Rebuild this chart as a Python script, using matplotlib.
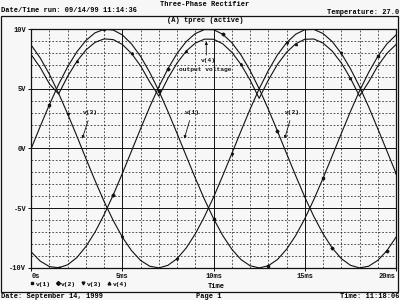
import matplotlib
matplotlib.use("Agg")
import matplotlib.pyplot as plt
from matplotlib.lines import Line2D
from matplotlib.patches import Rectangle

t_ms = [0.0, 0.5, 1.0, 1.5, 2.0, 2.5, 3.0, 3.5, 4.0, 4.5,
        5.0, 5.5, 6.0, 6.5, 7.0, 7.5, 8.0, 8.5, 9.0, 9.5,
        10.0, 10.5, 11.0, 11.5, 12.0, 12.5, 13.0, 13.5, 14.0, 14.5,
        15.0, 15.5, 16.0, 16.5, 17.0, 17.5, 18.0, 18.5, 19.0, 19.5, 20.0]

v1 = [0.0, 1.87, 3.68, 5.36, 6.85, 8.09, 9.05, 9.69, 9.98, 9.92,
      9.51, 8.76, 7.71, 6.37, 4.82, 3.09, 1.25, -0.63, -2.49, -4.26,
      -5.88, -7.29, -8.44, -9.30, -9.82, -10.0, -9.82, -9.30, -8.44, -7.29,
      -5.88, -4.26, -2.49, -0.63, 1.25, 3.09, 4.82, 6.37, 7.71, 8.76, 9.51]

v2 = [-8.66, -9.44, -9.89, -9.99, -9.74, -9.14, -8.21, -7.00, -5.53, -3.88,
      -2.08, -0.21, 1.67, 3.49, 5.18, 6.69, 7.97, 8.96, 9.63, 9.96,
      9.95, 9.57, 8.86, 7.84, 6.53, 5.00, 3.29, 1.46, -0.42, -2.28,
      -4.07, -5.71, -7.14, -8.33, -9.22, -9.78, -10.0, -9.86, -9.37, -8.56, -7.43]

v3 = [8.66, 7.57, 6.21, 4.63, 2.89, 1.05, -0.84, -2.69, -4.45, -6.04,
      -7.43, -8.55, -9.38, -9.86, -10.0, -9.78, -9.22, -8.33, -7.14, -5.70,
      -4.07, -2.28, -0.42, 1.46, 3.29, 5.00, 6.53, 7.84, 8.86, 9.57,
      9.95, 9.97, 9.63, 8.96, 7.97, 6.69, 5.18, 3.49, 1.66, -0.20, -2.08]

# output voltage (rectified envelope)
v4 = [7.86, 6.77, 5.41, 4.56, 6.05, 7.29, 8.25, 8.89, 9.18, 9.12,
      8.71, 7.96, 6.91, 5.57, 4.38, 5.89, 7.17, 8.16, 8.83, 9.16,
      9.15, 8.77, 8.06, 7.04, 5.73, 4.20, 5.73, 7.04, 8.06, 8.77,
      9.15, 9.17, 8.83, 8.16, 7.17, 5.89, 4.38, 5.57, 6.91, 7.96, 8.71]

xticks = [0, 5, 10, 15, 20]
xticklabels = ["0s", "5ms", "10ms", "15ms", "20ms"]
yticks = [-10, -5, 0, 5, 10]
yticklabels = ["-10V", "-5V", "0V", "5V", "10V"]

FONT = dict(family="Liberation Mono", weight="bold", size=5)
SMALL = dict(family="Liberation Mono", weight="bold", size=4.5)
ink = "#111111"

fig = plt.figure(figsize=(4, 3), dpi=100)
fig.patch.set_facecolor("#f7f7f7")
ax = fig.add_axes([0.078, 0.107, 0.912, 0.796])
ax.set_facecolor("#f7f7f7")

series = [(v1, "s", "v(1)"), (v2, "D", "v(2)"),
          (v3, "v", "v(3)"), (v4, "^", "v(4)")]
for i, (vals, mk, lab) in enumerate(series):
    ax.plot(t_ms, vals, color=ink, lw=0.8, marker=mk, ms=1.5,
            markevery=(2 + i, 6), label=lab)

ax.set_xlim(0, 20)
ax.set_ylim(-10, 10)

# grid: solid at major, dashed at minor (1 ms / 1 V)
for x in range(1, 20):
    if x % 5 == 0:
        ax.axvline(x, color=ink, lw=0.7)
    else:
        ax.axvline(x, color=ink, lw=0.5, ls=(0, (2.5, 2.5)))
for y in range(-9, 10):
    if y % 5 == 0:
        ax.axhline(y, color=ink, lw=0.7)
    else:
        ax.axhline(y, color=ink, lw=0.5, ls=(0, (2.5, 2.5)))

for sp in ax.spines.values():
    sp.set_color(ink)
    sp.set_linewidth(0.9)

ax.set_xticks(xticks)
ax.set_xticklabels(xticklabels, fontdict=FONT, color=ink)
ax.set_yticks(yticks)
ax.set_yticklabels(yticklabels, fontdict=FONT, color=ink)
ax.tick_params(length=2, width=0.7, pad=1.5, colors=ink)
xl = ax.get_xticklabels()
xl[0].set_ha("left")
xl[-1].set_ha("right")

# trace labels with arrows
arrow = dict(arrowstyle="-|>", color=ink, lw=0.6, mutation_scale=4)
ax.annotate("v(3)", xy=(2.75, 0.6), xytext=(2.85, 3.0), ha="left", va="center",
            arrowprops=arrow, color=ink, **SMALL)
ax.annotate("v(1)", xy=(8.35, 0.6), xytext=(8.4, 3.0), ha="left", va="center",
            arrowprops=arrow, color=ink, **SMALL)
ax.annotate("v(2)", xy=(13.85, 0.6), xytext=(13.9, 3.0), ha="left", va="center",
            arrowprops=arrow, color=ink, **SMALL)
ax.annotate("", xy=(9.6, 9.2), xytext=(9.6, 7.6), arrowprops=arrow)
ax.text(9.3, 7.4, "v(4)", ha="left", va="center", color=ink, **SMALL)
ax.text(8.1, 6.6, "output voltage", ha="left", va="center", color=ink, **SMALL)

# legend below the plot
handles = [Line2D([], [], color=ink, marker=m, ms=2, ls="none") for _, m, _ in series]
ax.legend(handles, [s[2] for s in series], loc="upper left",
          bbox_to_anchor=(-0.01, -0.045), ncol=4, frameon=False,
          handlelength=0.6, handletextpad=0.3, columnspacing=0.8,
          borderaxespad=0, prop=SMALL)

# page frame and header / footer texts like the probe printout
fig.add_artist(Rectangle((0.003, 1 - 292 / 300), 0.992, (292 - 16) / 300,
                         transform=fig.transFigure, fill=False, ec=ink, lw=0.9))
fig.text(0.512, 1 - 4 / 300, "Three-Phase Rectifier", ha="center", va="center", **FONT)
fig.text(0.003, 1 - 10 / 300, "Date/Time run: 09/14/99 11:14:36", ha="left", va="center", **FONT)
fig.text(0.998, 1 - 12 / 300, "Temperature: 27.0", ha="right", va="center", **FONT)
fig.text(0.512, 1 - 21 / 300, "(A) tprec (active)", ha="center", va="center", **FONT)
fig.text(0.52, 1 - 287 / 300, "Time", ha="left", va="center", **FONT)
fig.text(0.003, 1 - 297 / 300, "Date: September 14, 1999", ha="left", va="center", **FONT)
fig.text(0.49, 1 - 297 / 300, "Page 1", ha="left", va="center", **FONT)
fig.text(0.998, 1 - 297 / 300, "Time: 11:18:06", ha="right", va="center", **FONT)

fig.savefig("out.png", dpi=100, facecolor=fig.get_facecolor())
